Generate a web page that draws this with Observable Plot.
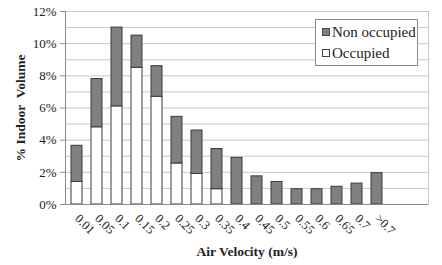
<!DOCTYPE html>
<html><head><meta charset="utf-8">
<script src="https://cdn.jsdelivr.net/npm/d3@7"></script>
<script src="https://cdn.jsdelivr.net/npm/@observablehq/plot@0.6"></script>
<style>
body{margin:0;background:#fff;}
#chart{position:relative;width:442px;height:265px;}
#chart svg, #chart svg text{font-family:"Liberation Serif","Times New Roman",serif !important;}
g[aria-label="x-axis label"] text, g[aria-label="y-axis label"] text{font-weight:bold;font-size:13.5px;}
.legend{position:absolute;left:315px;top:19px;width:103px;height:47px;border:1px solid #8a8a8a;background:#fff;box-sizing:border-box;font-family:"Liberation Serif","Times New Roman",serif;font-size:15px;color:#222;}
.legend .row{position:absolute;left:6px;height:18px;line-height:18px;white-space:nowrap;}
.legend .sw{display:inline-block;width:6px;height:6px;border:1px solid #444;margin-right:2px;vertical-align:1px;}
</style>
</head><body>
<div id="chart"></div>
<script>
const categories = ["0.01","0.05","0.1","0.15","0.2","0.25","0.3","0.35","0.4","0.45","0.5","0.55","0.6","0.65","0.7",">0.7"];
const blankSlots = [" ", "  "];
const occupied    = [1.4, 4.8, 6.1, 8.5, 6.7, 2.55, 1.9, 0.95, 0, 0, 0, 0, 0, 0, 0, 0];
const nonOccupied = [2.25, 3.0, 4.9, 2.0, 1.9, 2.9, 2.7, 2.5, 2.9, 1.75, 1.4, 0.95, 0.95, 1.1, 1.3, 1.95];
const seriesNames = ["Non occupied", "Occupied"];
const seriesColors = ["#808080", "#ffffff"];
const yTickValues = [0, 2, 4, 6, 8, 10, 12];
const gridValues = [0, 1, 2, 3, 4, 5, 6, 7, 8, 9, 10, 11, 12];

const rows = [];
categories.forEach((c, i) => {
  if (occupied[i] > 0) rows.push({category: c, series: "Occupied", value: occupied[i]});
  if (nonOccupied[i] > 0) rows.push({category: c, series: "Non occupied", value: nonOccupied[i]});
});

const plot = Plot.plot({
  width: 442, height: 265,
  marginLeft: 65, marginRight: 14, marginTop: 11, marginBottom: 61,
  style: {color: "#222", background: "#fff", fontFamily: "'Liberation Serif', 'Times New Roman', serif"},
  x: {domain: [...categories, ...blankSlots], paddingInner: 0.45, paddingOuter: 0.225, axis: null},
  y: {domain: [0, 12], axis: null},
  color: {domain: seriesNames, range: seriesColors},
  marks: [
    Plot.gridY(gridValues, {stroke: "#c8c8c8", strokeOpacity: 1}),
    Plot.frame({stroke: "#c8c8c8"}),
    Plot.barY(rows, {x: "category", y: "value", fill: "series", stroke: "#3a3a3a", strokeWidth: 1}),
    Plot.ruleY([0], {stroke: "#8a8a8a"}),
    Plot.frame({anchor: "left", stroke: "#8a8a8a"}),
    Plot.axisY({ticks: yTickValues, tickFormat: d => d + "%", tickSize: 5, tickPadding: 4, fontSize: 13, stroke: "#8a8a8a", fill: "#222",
      label: "% Indoor\u00a0 Volume", labelAnchor: "center", labelArrow: "none", labelOffset: 50}),
    Plot.axisX({tickRotate: 45, tickSize: 0, tickPadding: 12, fontSize: 12.5, fill: "#222", tickFormat: d => d.trim(),
      label: "Air Velocity (m/s)", labelAnchor: "center", labelArrow: "none", labelOffset: 51})
  ]
});
const chart = document.getElementById("chart");
chart.appendChild(plot);

const legend = document.createElement("div");
legend.className = "legend";
seriesNames.forEach((name, i) => {
  const row = document.createElement("div");
  row.className = "row";
  row.style.top = (3 + i * 21) + "px";
  const sw = document.createElement("span");
  sw.className = "sw";
  sw.style.background = seriesColors[i];
  row.appendChild(sw);
  row.appendChild(document.createTextNode(name));
  legend.appendChild(row);
});
chart.appendChild(legend);
</script>
</body></html>
